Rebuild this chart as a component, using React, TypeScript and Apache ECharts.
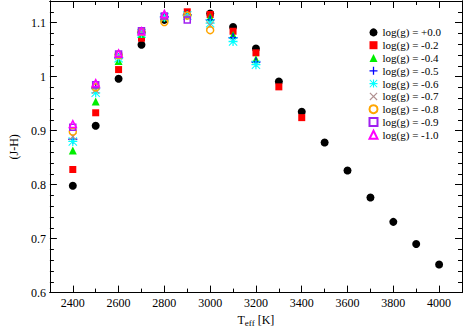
import React, { useEffect, useRef } from "react";
import * as echarts from "echarts";

const temps = [2400, 2500, 2600, 2700, 2800, 2900, 3000, 3100, 3200, 3300, 3400, 3500, 3600, 3700, 3800, 3900, 4000];
const g00 = [0.798, 0.909, 0.996, 1.059, 1.105, 1.114, 1.117, 1.092, 1.052, 0.991, 0.935, 0.878, 0.826, 0.776, 0.731, 0.690, 0.652];
const g02 = [0.828, 0.933, 1.013, 1.071, 1.110, 1.120, 1.115, 1.084, 1.044, 0.981, 0.924];
const g04 = [0.863, 0.954, 1.029, 1.079, 1.110, 1.116, 1.110, 1.077, 1.032];
const g05 = [0.884, 0.979, 1.035, 1.082, 1.111, 1.114, 1.105, 1.072, 1.027];
const g06 = [0.880, 0.970, 1.034, 1.080, 1.110, 1.113, 1.099, 1.065, 1.022];
const g07 = [0.889, 0.975, 1.038, 1.082, 1.108, 1.112, 1.095];
const g08 = [0.898, 0.980, 1.040, 1.083, 1.101, 1.113, 1.086];
const g09 = [0.906, 0.985, 1.042, 1.085, 1.112, 1.105];
const g10 = [0.912, 0.988, 1.043, 1.084, 1.116];

const xMajor = [2400, 2600, 2800, 3000, 3200, 3400, 3600, 3800, 4000];
const xMinor = [2500, 2700, 2900, 3100, 3300, 3500, 3700, 3900];
const yMajor = [0.6, 0.7, 0.8, 0.9, 1.0, 1.1];
const yMinor = [0.62, 0.64, 0.66, 0.68, 0.72, 0.74, 0.76, 0.78, 0.82, 0.84, 0.86, 0.88, 0.92, 0.94, 0.96, 0.98, 1.02, 1.04, 1.06, 1.08, 1.12];

const names = ["log(g) = +0.0", "log(g) = -0.2", "log(g) = -0.4", "log(g) = -0.5", "log(g) = -0.6", "log(g) = -0.7", "log(g) = -0.8", "log(g) = -0.9", "log(g) = -1.0"];

const PLUS = "path://M0,4.2H10V5.8H0Z M4.2,0H5.8V10H4.2Z";
const STAR = "path://M0,4.3H10V5.7H0Z M4.3,0H5.7V10H4.3Z M0.8,0L10,9.2L9.2,10L0,0.8Z M9.2,0L10,0.8L0.8,10L0,9.2Z";
const CROSS = "path://M1,0L10,9L9,10L0,1Z M9,0L10,1L1,10L0,9Z";

const FONT = "Liberation Serif";

export default function App() {
  const ref = useRef<HTMLDivElement>(null);
  useEffect(() => {
    const chart = echarts.init(ref.current!, null, { renderer: "svg" });
    const mk = (vals: number[]) => vals.map((v, i) => [temps[i], v]);
    const filled = (color: string) => ({ color, opacity: 1 });
    const hollow = (color: string) => ({ color: "rgba(0,0,0,0)", borderColor: color, borderWidth: 1.5, opacity: 1 });
    const specs = [
      { d: g00, symbol: "circle", size: 8, style: filled("#000000") },
      { d: g02, symbol: "rect", size: 7, style: filled("#ff0000") },
      { d: g04, symbol: "triangle", size: 8, style: filled("#00ee00") },
      { d: g05, symbol: PLUS, size: 9, style: filled("#0000ff") },
      { d: g06, symbol: STAR, size: 9, style: filled("#00ffff") },
      { d: g07, symbol: CROSS, size: 8, style: filled("#b08f8f") },
      { d: g08, symbol: "circle", size: 7, style: hollow("#ffa500") },
      { d: g09, symbol: "rect", size: 6, style: hollow("#a020f0") },
      { d: g10, symbol: "triangle", size: 7, style: hollow("#ff00ff") },
    ];
    const axisLine = { show: true, lineStyle: { color: "#000", width: 1 } };
    const xBase = { type: "value", min: 2300, max: 4100, gridIndex: 0, splitLine: { show: false }, axisLine };
    const yBase = { type: "value", min: 0.6, max: 1.14, gridIndex: 0, splitLine: { show: false }, axisLine };
    chart.setOption({
      animation: false,
      backgroundColor: "#ffffff",
      grid: { left: 34, right: 1, top: 1, bottom: 30 },
      xAxis: [
        {
          ...xBase, position: "bottom",
          axisTick: { show: true, inside: true, length: 7, customValues: xMajor, lineStyle: { color: "#000" } },
          axisLabel: { show: true, customValues: xMajor, margin: 4, color: "#000", fontFamily: FONT, fontSize: 12, formatter: (v: number) => String(v) },
          name: "{a|T}{b|eff}{a| [K]}", nameLocation: "middle", nameGap: 14,
          nameTextStyle: { rich: { a: { fontFamily: FONT, fontSize: 12, color: "#000" }, b: { fontFamily: FONT, fontSize: 9, color: "#000", verticalAlign: "bottom", padding: [6, 0, 0, 0] } } },
        },
        { ...xBase, position: "bottom", axisLabel: { show: false }, axisTick: { show: true, inside: true, length: 4, customValues: xMinor, lineStyle: { color: "#000" } } },
        { ...xBase, position: "top", axisLabel: { show: false }, axisTick: { show: true, inside: true, length: 7, customValues: xMajor, lineStyle: { color: "#000" } } },
        { ...xBase, position: "top", axisLabel: { show: false }, axisTick: { show: true, inside: true, length: 4, customValues: xMinor, lineStyle: { color: "#000" } } },
      ],
      yAxis: [
        {
          ...yBase, position: "left",
          axisTick: { show: true, inside: true, length: 7, customValues: yMajor, lineStyle: { color: "#000" } },
          axisLabel: { show: true, customValues: yMajor, margin: 4, color: "#000", fontFamily: FONT, fontSize: 12, formatter: (v: number) => String(Math.round(v * 10) / 10) },
          name: "(J-H)", nameLocation: "middle", nameGap: 28,
          nameTextStyle: { fontFamily: FONT, fontSize: 12, color: "#000" },
        },
        { ...yBase, position: "left", axisLabel: { show: false }, axisTick: { show: true, inside: true, length: 4, customValues: yMinor, lineStyle: { color: "#000" } } },
        { ...yBase, position: "right", axisLabel: { show: false }, axisTick: { show: true, inside: true, length: 7, customValues: yMajor, lineStyle: { color: "#000" } } },
        { ...yBase, position: "right", axisLabel: { show: false }, axisTick: { show: true, inside: true, length: 4, customValues: yMinor, lineStyle: { color: "#000" } } },
      ],
      legend: {
        show: true, orient: "vertical", left: 363.5, top: 21,
        itemWidth: 8, itemHeight: 8, itemGap: 0,
        textStyle: { fontFamily: FONT, fontSize: 11, color: "#000", lineHeight: 12.8, padding: [0, 0, 0, 0] },
        data: names,
      },
      series: specs.map((s, i) => ({
        type: "scatter", name: names[i], xAxisIndex: 0, yAxisIndex: 0,
        symbol: s.symbol, symbolSize: s.size, itemStyle: s.style,
        data: mk(s.d),
      })),
    });
    return () => chart.dispose();
  }, []);
  return <div ref={ref} style={{ width: 463, height: 332, position: "absolute", left: 0, top: 0 }} />;
}
